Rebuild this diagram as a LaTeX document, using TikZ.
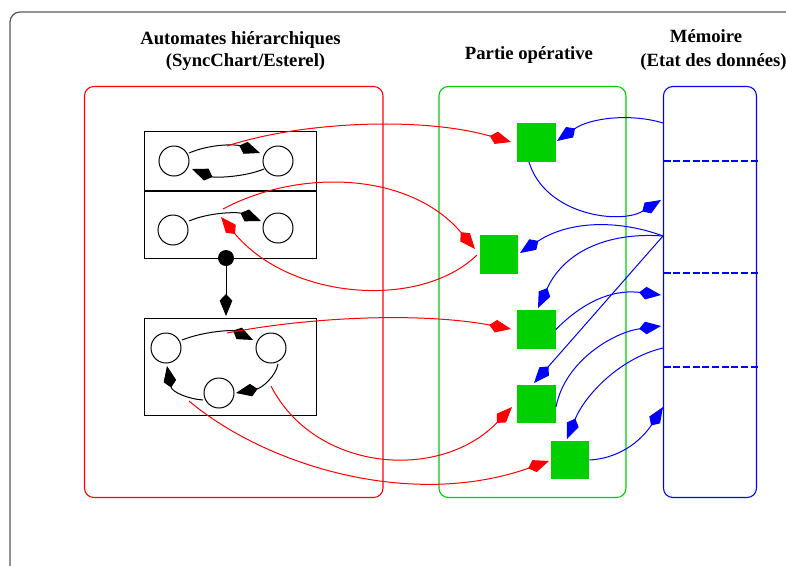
\documentclass[tikz,border=0pt]{standalone}
\usepackage{fontspec}
\setmainfont{Liberation Serif}
\usetikzlibrary{arrows.meta}
\definecolor{framegray}{gray}{0.35}
\definecolor{opgreen}{RGB}{0,208,0}
\tikzset{
  kite/.tip={Kite[length=16.5pt,width=9.5pt,inset=5pt]},
  conn/.style={line width=0.75pt,-kite},
  state/.style={circle,draw,line width=0.75pt,minimum size=22.5pt,inner sep=0,outer sep=0,fill=white},
  op/.style={rectangle,fill=opgreen,minimum size=29pt,inner sep=0,outer sep=0},
  title/.style={font=\bfseries\fontsize{14}{16}\selectfont,inner sep=0,anchor=center},
  region/.style={rectangle,draw,rounded corners=7pt,line width=0.8pt,anchor=north west,inner sep=0,outer sep=0},
  autobox/.style={rectangle,draw,line width=0.75pt,anchor=north west,inner sep=0,outer sep=0},
  memsep/.style={draw=blue,line width=0.9pt}
}
\begin{document}
\begin{tikzpicture}[x=0.75pt,y=-0.75pt]
\useasboundingbox (0,0) rectangle (786,565);
\draw[framegray,line width=0.9pt] (10,570) -- (10,22) arc[start angle=180,end angle=90,radius=7.5pt] -- (786,12);
% titles
\node[title] (t1) at (240.5,40) {Automates hiérarchiques};
\node[title] (t2) at (245.5,62) {(SyncChart/Esterel)};
\node[title] (t3) at (529,55) {Partie opérative};
\node[title] (t4) at (706,36) {Mémoire};
\node[title] (t5) at (713.5,62) {(Etat des données)};
% regions
\node[region,draw=red,minimum width=223.875pt,minimum height=308.25pt] (auto) at (84.5,86.5) {};
\node[region,draw=opgreen,minimum width=140.25pt,minimum height=308.25pt] (part) at (439,86.5) {};
\node[region,draw=blue,minimum width=69.75pt,minimum height=308.25pt] (mem) at (663.5,86.5) {};
% memory separators, dash by dash
\foreach \yy in {161,273,367}{
  \foreach \k in {0,...,9}{
    \draw[memsep] (663.5+9.67*\k,\yy) -- ++(7,0);
  }
}
% automata boxes
\node[autobox,minimum width=129pt,minimum height=44.625pt] (b1) at (144,131.5) {};
\node[autobox,minimum width=129pt,minimum height=50.625pt] (b2) at (144,191) {};
\node[autobox,minimum width=129pt,minimum height=72.75pt] (b3) at (144,318.5) {};
\draw[line width=1.6pt] (b2.north west) -- (b2.north east);
% states
\node[state] (c1) at (174,161) {};
\node[state] (c2) at (278,161) {};
\node[state] (c3) at (173,230) {};
\node[state] (c4) at (278,228) {};
\node[state] (c5) at (166,348) {};
\node[state] (c6) at (271,348) {};
\node[state] (c7) at (219,393) {};
\node[circle,fill=black,minimum size=12pt,inner sep=0,outer sep=0] (dot) at (226,258) {};
% operative squares
\node[op] (s1) at (536.5,142.5) {};
\node[op] (s2) at (499,254.5) {};
\node[op] (s3) at (536.5,329.5) {};
\node[op] (s4) at (536.5,404) {};
\node[op] (s5) at (570,460) {};
% black transitions
\coordinate (k1a) at (189,153); \coordinate (k1b) at (260,153);
\coordinate (k2a) at (264,169); \coordinate (k2b) at (192,169);
\coordinate (k3a) at (189,221); \coordinate (k3b) at (261,221);
\coordinate (k4a) at (182,340); \coordinate (k4b) at (253,340);
\coordinate (k5a) at (278,364); \coordinate (k5b) at (236,393);
\coordinate (k6a) at (203,400); \coordinate (k6b) at (167,366);
\draw[conn] (k1a) .. controls (210,144) and (235,144) .. (k1b);
\draw[conn] (k2a) .. controls (245,177) and (215,178) .. (k2b);
\draw[conn] (k3a) .. controls (210,212) and (238,212) .. (k3b);
\draw[conn] (k4a) .. controls (205,331) and (232,330) .. (k4b);
\draw[conn] (k5a) .. controls (276,376) and (262,388) .. (k5b);
\draw[conn] (k6a) .. controls (188,399) and (172,392) .. (k6b);
\coordinate (dotarrow) at (226,316);
\draw[conn] (dot) -- (dotarrow);
% red connectors
\coordinate (r1a) at (227,146); \coordinate (r1b) at (511,142);
\coordinate (r2a) at (223,209); \coordinate (r2b) at (475,249);
\coordinate (r3a) at (477,255); \coordinate (r3b) at (221,217);
\coordinate (r4a) at (227,333); \coordinate (r4b) at (511,329);
\coordinate (r5a) at (271,386); \coordinate (r5b) at (512,407);
\coordinate (r6a) at (189,401); \coordinate (r6b) at (549,461);
\draw[conn,red] (r1a) .. controls (300,122) and (420,116) .. (r1b);
\draw[conn,red] (r2a) .. controls (300,168) and (410,172) .. (r2b);
\draw[conn,red] (r3a) .. controls (420,310) and (290,300) .. (r3b);
\draw[conn,red] (r4a) .. controls (310,317) and (420,312) .. (r4b);
\draw[conn,red] (r5a) .. controls (315,472) and (440,482) .. (r5b);
\draw[conn,red] (r6a) .. controls (265,465) and (410,510) .. (r6b);
% blue connectors
\coordinate (m1) at (663,123); \coordinate (s1t) at (557,141);
\coordinate (s1b) at (529,162); \coordinate (m2) at (661,200);
\coordinate (m3) at (663,236); \coordinate (s2t) at (520,253);
\coordinate (s3t) at (538,308); \coordinate (s4t) at (534,383);
\coordinate (m4) at (661,295); \coordinate (m5) at (661,326);
\coordinate (s4r) at (556,407); \coordinate (m6) at (663,348);
\coordinate (s5t) at (567,439); \coordinate (m7) at (663,407);
\draw[conn,blue] (m1) .. controls (630,113) and (590,118) .. (s1t);
\draw[conn,blue] (s1b) .. controls (545,215) and (620,225) .. (m2);
\draw[conn,blue] (m3) .. controls (620,220) and (570,220) .. (s2t);
\draw[conn,blue] (m3) .. controls (610,232) and (565,250) .. (s3t);
\draw[conn,blue] (m3) -- (s4t);
\draw[conn,blue] (s3.east) .. controls (590,295) and (620,290) .. (m4);
\draw[conn,blue] (s4r) .. controls (565,360) and (615,332) .. (m5);
\draw[conn,blue] (m6) .. controls (620,358) and (585,395) .. (s5t);
\draw[conn,blue] (s5.east) .. controls (625,458) and (645,435) .. (m7);
\end{tikzpicture}
\end{document}
